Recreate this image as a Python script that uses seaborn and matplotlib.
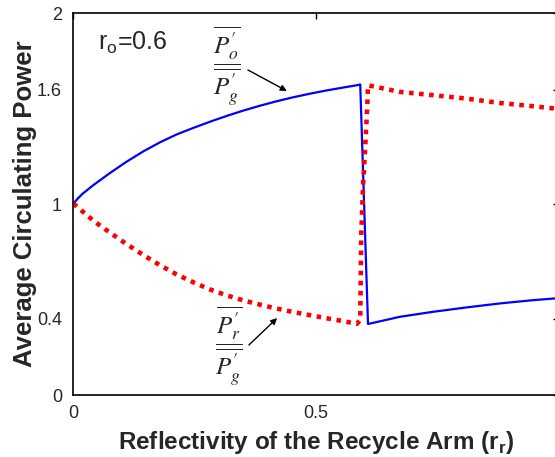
import matplotlib
matplotlib.use("Agg")
import matplotlib.pyplot as plt
import seaborn as sns
import pandas as pd

# ---- data ----
rr_blue = [0.0, 0.01, 0.02, 0.042, 0.076, 0.110, 0.145, 0.179, 0.213, 0.248,
           0.282, 0.316, 0.350, 0.385, 0.419, 0.453, 0.488, 0.522, 0.556,
           0.584, 0.591, 0.599, 0.607, 0.673, 0.741, 0.810, 0.879, 0.947,
           0.992, 1.0]
po_pg = [1.0, 1.03, 1.055, 1.10, 1.163, 1.222, 1.277, 1.324, 1.365, 1.400,
         1.432, 1.462, 1.490, 1.516, 1.539, 1.560, 1.579, 1.596, 1.611,
         1.623, 1.627, 1.0, 0.372, 0.41, 0.436, 0.459, 0.48, 0.497,
         0.506, 0.508]

rr_red = [0.0, 0.004, 0.042, 0.076, 0.110, 0.145, 0.179, 0.213, 0.248, 0.282,
          0.316, 0.350, 0.385, 0.419, 0.453, 0.488, 0.522, 0.556, 0.584,
          0.591, 0.593, 0.597, 0.602, 0.606, 0.607, 0.673, 0.741, 0.810,
          0.879, 0.947, 0.992, 1.0]
pr_pg = [1.0, 0.996, 0.913, 0.851, 0.791, 0.733, 0.680, 0.632, 0.590, 0.553,
         0.522, 0.496, 0.473, 0.453, 0.435, 0.418, 0.402, 0.387, 0.373,
         0.393, 0.83, 1.109, 1.336, 1.546, 1.623, 1.588, 1.571, 1.553,
         1.53, 1.513, 1.501, 1.498]

xticks = [0, 0.5, 1]
xticklabels = ["0", "0.5", "1"]
yticks = [0, 0.4, 1, 1.6, 2]
yticklabels = ["0", "0.4", "1", "1.6", "2"]

df_blue = pd.DataFrame({"rr": rr_blue, "p": po_pg})
df_red = pd.DataFrame({"rr": rr_red, "p": pr_pg})

sns.set_style("white")
plt.rcParams["font.family"] = ["Liberation Sans", "DejaVu Sans"]

fig = plt.figure(figsize=(5.55, 4.57), dpi=100)
ax = fig.add_axes([73 / 555, 62 / 457, 486 / 555, 381.7 / 457])

sns.lineplot(data=df_blue, x="rr", y="p", ax=ax, color="#0000ff",
             linewidth=1.6, sort=False, estimator=None)
sns.lineplot(data=df_red, x="rr", y="p", ax=ax, color="#ff0000",
             linewidth=3.3, linestyle=(0, (1, 1.2)), sort=False, estimator=None)

ax.set_xlim(0, 1)
ax.set_ylim(0, 2)
ax.set_xticks(xticks)
ax.set_xticklabels(xticklabels)
ax.set_yticks(yticks)
ax.set_yticklabels(yticklabels)
ax.tick_params(direction="in", length=4, width=1, labelsize=13, color="black",
               top=True, right=True, pad=7)
ax.tick_params(axis="y", pad=8)
for s in ax.spines.values():
    s.set_color("black")
    s.set_linewidth(1.2)

ax.set_xlabel(r"Reflectivity of the Recycle Arm (r$_{\mathregular{r}}$)",
              fontsize=17.5, fontweight="bold", labelpad=5)
ax.set_ylabel("Average Circulating Power", fontsize=18.5, fontweight="bold",
              labelpad=0)

ax.text(0.051, 1.808, r"r$_{\mathregular{o}}$=0.6", fontsize=18,
        va="baseline", ha="left")

ax.text(0.317, 1.718,
        r"$\dfrac{\overline{P^{\prime}_{o}}}{\overline{P^{\prime}_{g}}}$",
        fontsize=18, math_fontfamily="stix", ha="center", va="center")
ax.text(0.321, 0.249,
        r"$\dfrac{\overline{P^{\prime}_{r}}}{\overline{P^{\prime}_{g}}}$",
        fontsize=18, math_fontfamily="stix", ha="center", va="center")

ax.annotate("", xy=(0.440, 1.593), xytext=(0.360, 1.703),
            arrowprops=dict(arrowstyle="-|>", color="black", lw=1.0,
                            mutation_scale=9, shrinkA=0, shrinkB=0))
ax.annotate("", xy=(0.420, 0.403), xytext=(0.362, 0.262),
            arrowprops=dict(arrowstyle="-|>", color="black", lw=1.0,
                            mutation_scale=9, shrinkA=0, shrinkB=0))

fig.savefig("out.png", dpi=100)
